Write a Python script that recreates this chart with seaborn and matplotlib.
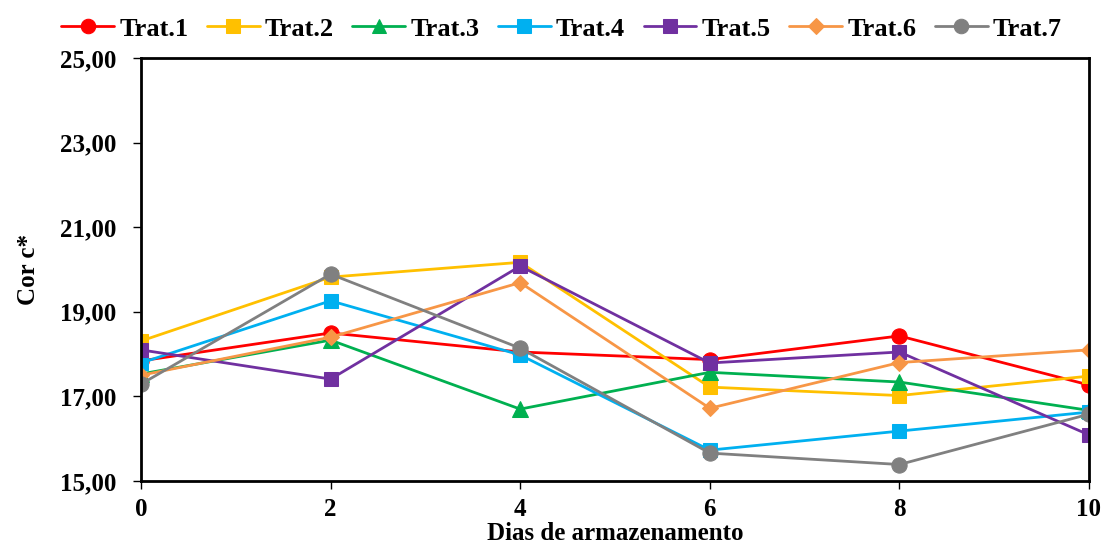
import matplotlib
matplotlib.use("Agg")
import matplotlib.pyplot as plt
import matplotlib.ticker as mticker
import pandas as pd
import seaborn as sns

# Storage days and colour c* readings for each treatment
dias = [0, 2, 4, 6, 8, 10]
trat1 = [17.84, 18.50, 18.05, 17.87, 18.43, 17.27]
trat2 = [18.31, 19.82, 20.17, 17.22, 17.02, 17.48]
trat3 = [17.53, 18.33, 16.70, 17.57, 17.34, 16.67]
trat4 = [17.79, 19.26, 17.98, 15.73, 16.18, 16.63]
trat5 = [18.10, 17.41, 20.08, 17.79, 18.05, 16.09]
trat6 = [17.50, 18.40, 19.69, 16.72, 17.80, 18.10]
trat7 = [17.29, 19.89, 18.14, 15.66, 15.39, 16.58]

nomes = ["Trat.1", "Trat.2", "Trat.3", "Trat.4", "Trat.5", "Trat.6", "Trat.7"]
series = [trat1, trat2, trat3, trat4, trat5, trat6, trat7]
cores = ["#FF0000", "#FFC000", "#00B050", "#00B0F0", "#7030A0", "#F79646", "#808080"]
marcadores = ["o", "s", "^", "s", "s", "D", "o"]
tamanhos = [11, 10, 11, 10, 10, 8.5, 11]

df = pd.DataFrame(
    [(d, v, n) for n, vals in zip(nomes, series) for d, v in zip(dias, vals)],
    columns=["dia", "valor", "trat"],
)

sns.set_theme(style="white")
plt.rcParams["font.family"] = ["Liberation Serif", "DejaVu Serif"]
plt.rcParams["font.weight"] = "bold"
plt.rcParams["text.color"] = "black"
plt.rcParams["axes.labelcolor"] = "black"
plt.rcParams["xtick.color"] = "black"
plt.rcParams["ytick.color"] = "black"

fig = plt.figure(figsize=(11.04, 5.45), dpi=100)
ax = fig.add_axes([0.1277, 0.1174, 0.8587, 0.7762])

for n, c, m, s in zip(nomes, cores, marcadores, tamanhos):
    sub = df[df["trat"] == n]
    sns.lineplot(data=sub, x="dia", y="valor", ax=ax, color=c, marker=m,
                 markersize=s, markeredgecolor=c, linewidth=2.0, label=n,
                 legend=False)

ax.set_xlim(0, 10)
ax.set_ylim(15, 25)
ax.set_xticks(dias)
ax.set_yticks([15, 17, 19, 21, 23, 25])
ax.yaxis.set_major_formatter(mticker.FuncFormatter(lambda v, p: f"{v:.2f}".replace(".", ",")))
ax.tick_params(axis="both", direction="out", length=6, width=1.0, color="black",
               labelsize=18, bottom=True, left=True)
ax.tick_params(axis="x", pad=6)
ax.tick_params(axis="y", pad=12)
for lab in ax.get_xticklabels() + ax.get_yticklabels():
    lab.set_fontweight("bold")
for sp in ax.spines.values():
    sp.set_color("black")
    sp.set_linewidth(2.0)

ax.set_xlabel("Dias de armazenamento", fontsize=18, fontweight="bold")
ax.set_ylabel("Cor c*", fontsize=18, fontweight="bold")
ax.xaxis.set_label_coords(0.5, -0.096)
ax.yaxis.set_label_coords(-0.107, 0.5)

handles, labels = ax.get_legend_handles_labels()
fig.legend(handles, labels, loc="center", bbox_to_anchor=(0.5086, 0.947),
           ncol=7, frameon=False, prop={"size": 19, "weight": "bold"},
           handlelength=2.0, handletextpad=0.2, columnspacing=0.7, markerscale=0.95)

fig.savefig("out.png", dpi=100)
